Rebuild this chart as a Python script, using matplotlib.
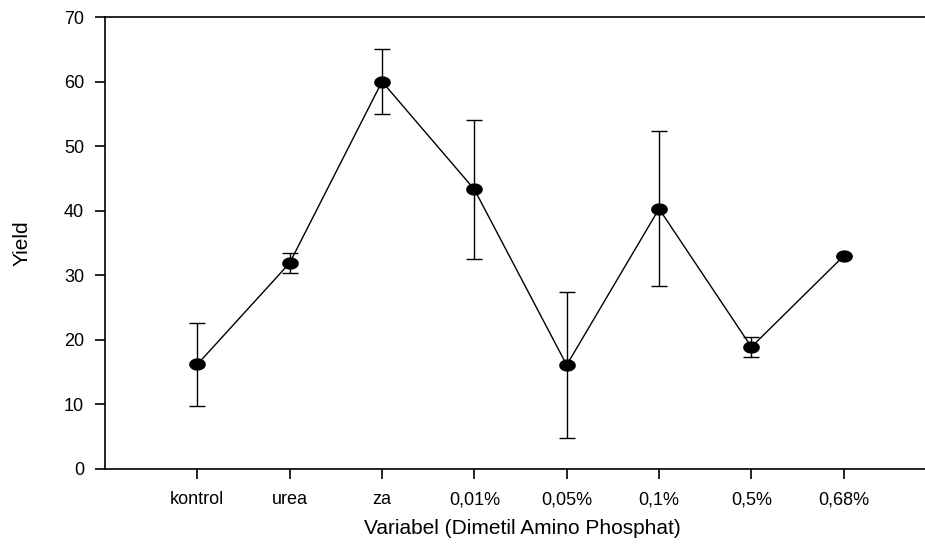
import numpy as np
import matplotlib.pyplot as plt
from matplotlib.path import Path

plt.rcParams['font.family'] = ['Liberation Sans', 'DejaVu Sans']

labels = ["kontrol", "urea", "za", "0,01%", "0,05%", "0,1%", "0,5%", "0,68%"]
yield_mean = [16.2, 31.9, 60.0, 43.3, 16.1, 40.3, 18.9, 33.0]
yield_err = [6.4, 1.5, 5.0, 10.7, 11.3, 12.0, 1.5, 0.0]

x = np.arange(1, len(labels) + 1)

# the reference looks horizontally stretched, so the dots are a bit oval
t = np.linspace(0, 2 * np.pi, 40)
oval = Path(np.column_stack([1.4 * np.cos(t), np.sin(t)]))

fig = plt.figure(figsize=(9.25, 5.47), dpi=100)
ax = fig.add_axes([0.1135, 0.1426, 0.8865, 0.8263])

ax.errorbar(x, yield_mean, yerr=yield_err, color="black", lw=1.0,
            elinewidth=1.0, capsize=6, capthick=1.0,
            marker=oval, markersize=11, mfc="black", mec="black")

ax.set_xlim(0, 8.88)
ax.set_ylim(0, 70)
ax.set_yticks(np.arange(0, 71, 10))
ax.set_xticks(x)
ax.set_xticklabels(labels)

ax.spines["right"].set_visible(False)
for s in ["left", "bottom", "top"]:
    ax.spines[s].set_linewidth(1.2)
ax.tick_params(direction="out", length=7, width=1.2, labelsize=13, pad=8)
ax.tick_params(axis="x", pad=9)

ax.set_xlabel("Variabel (Dimetil Amino Phosphat)", fontsize=15)
ax.set_ylabel("Yield", fontsize=15)
ax.xaxis.set_label_coords(0.509, -0.11)
ax.yaxis.set_label_coords(-0.09, 0.5)

plt.savefig("out.png", dpi=100)
